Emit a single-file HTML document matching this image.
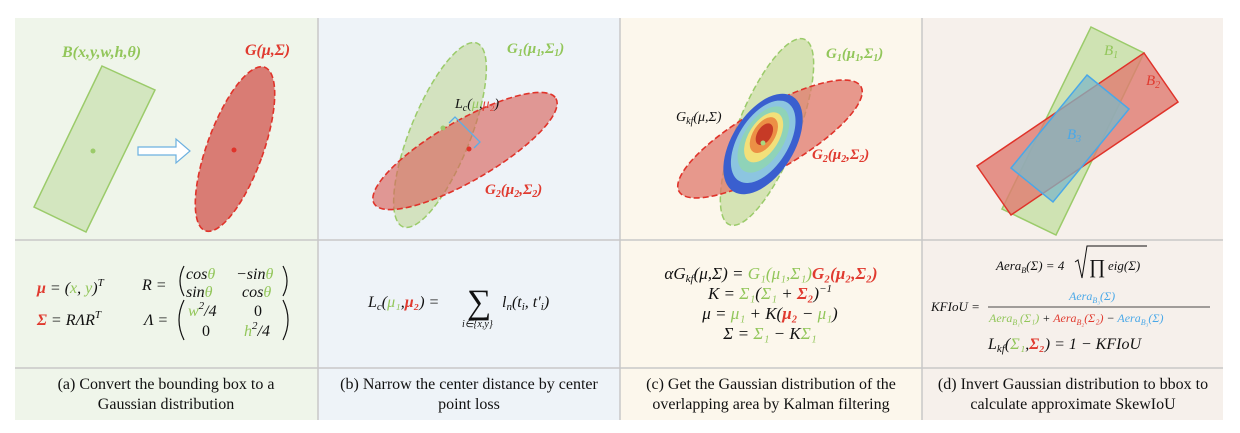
<!DOCTYPE html>
<html><head><meta charset="utf-8"><style>
body{margin:0;background:#fff;width:1240px;height:433px;overflow:hidden}
svg{display:block}
.m{font-family:"Liberation Serif",serif;font-style:italic}
.c{font-family:"Liberation Serif",serif;font-size:16px;fill:#111;text-anchor:middle}
.g{fill:#92c65a}.r{fill:#e03a2f}.b{fill:#4aa8e8}
</style></head><body>
<svg width="1240" height="433" viewBox="0 0 1240 433">
<g>
<rect x="15" y="18" width="303" height="402" fill="#eff5ea"/>
<rect x="318" y="18" width="302" height="402" fill="#eef3f8"/>
<rect x="620" y="18" width="302" height="402" fill="#fcf7ec"/>
<rect x="922" y="18" width="301" height="402" fill="#f6f0eb"/>
<g stroke="#c8c8c8" stroke-width="1.5">
<line x1="15" y1="240" x2="1223" y2="240"/><line x1="15" y1="368" x2="1223" y2="368"/>
<line x1="318" y1="18" x2="318" y2="420"/><line x1="620" y1="18" x2="620" y2="420"/><line x1="922" y1="18" x2="922" y2="420"/>
</g></g>

<!-- panel a -->
<g>
<polygon points="102,66 155,90 86,232 34,207" fill="#d3e6bf" stroke="#9bcb6a" stroke-width="1.5"/>
<circle cx="93" cy="151" r="2.5" fill="#9bcb6a"/>
<path d="M138,151 h38 v-8 l14,12 l-14,12 v-8 h-38 z" fill="#fff" stroke="#6cb0e0" stroke-width="1.2" transform="translate(0,-4)"/>
<ellipse cx="235" cy="149" rx="28" ry="87" transform="rotate(20 235 149)" fill="#d97c74" stroke="#e0332a" stroke-width="1.6" stroke-dasharray="6 3"/>
<circle cx="234" cy="150" r="2.5" fill="#e0332a"/>
<text class="m g" x="62" y="57" font-size="16" font-weight="bold">B(x,y,w,h,θ)</text>
<text class="m r" x="245" y="55" font-size="16" font-weight="bold">G(μ,Σ)</text>
</g>

<!-- panel b -->
<g>
<ellipse cx="440" cy="135" rx="30" ry="99" transform="rotate(22 440 135)" fill="#cfe0b8" fill-opacity="0.9" stroke="#9bcb6a" stroke-width="1.5" stroke-dasharray="6 3"/>
<ellipse cx="465" cy="151" rx="105" ry="30" transform="rotate(-30 465 151)" fill="#d9665e" fill-opacity="0.65" stroke="#e0332a" stroke-width="1.6" stroke-dasharray="6 3"/>
<circle cx="443" cy="128" r="2.5" fill="#9bcb6a"/><circle cx="469" cy="149" r="2.5" fill="#e0332a"/>
<path d="M449,123 l6,-6 l25,25 l-6,6" fill="none" stroke="#5aaee8" stroke-width="1.3"/>
<text class="m g" x="507" y="53" font-size="15" font-weight="bold">G<tspan font-size="10" dy="3">1</tspan><tspan dy="-3">(μ</tspan><tspan font-size="10" dy="3">1</tspan><tspan dy="-3">,Σ</tspan><tspan font-size="10" dy="3">1</tspan><tspan dy="-3">)</tspan></text>
<text class="m" x="455" y="108" font-size="14" fill="#111">L<tspan font-size="10" dy="3">c</tspan><tspan dy="-3">(</tspan><tspan class="g">μ</tspan><tspan>,</tspan><tspan class="r">μ₂</tspan><tspan>)</tspan></text>
<text class="m r" x="485" y="194" font-size="15" font-weight="bold">G<tspan font-size="10" dy="3">2</tspan><tspan dy="-3">(μ</tspan><tspan font-size="10" dy="3">2</tspan><tspan dy="-3">,Σ</tspan><tspan font-size="10" dy="3">2</tspan><tspan dy="-3">)</tspan></text>
</g>

<!-- panel c -->
<g>
<ellipse cx="767" cy="132" rx="30" ry="100" transform="rotate(22 767 132)" fill="#d5e3b4" stroke="#9bcb6a" stroke-width="1.5" stroke-dasharray="6 3"/>
<ellipse cx="770" cy="139" rx="105" ry="31" transform="rotate(-30 770 139)" fill="#e0786c" fill-opacity="0.75" stroke="#e0332a" stroke-width="1.6" stroke-dasharray="6 3"/>
<g transform="rotate(-58 763 144)">
<ellipse cx="763" cy="144" rx="56" ry="31" fill="#3a5fcf"/>
<ellipse cx="765" cy="143" rx="46" ry="25" fill="#8cc5e0"/>
<ellipse cx="767" cy="142" rx="37" ry="20" fill="#8fd3b8"/>
<ellipse cx="769" cy="141" rx="28" ry="15" fill="#f2e07a"/>
<ellipse cx="771" cy="140" rx="20" ry="11" fill="#ec8f45"/>
<ellipse cx="772" cy="140" rx="12" ry="7" fill="#c63a26"/>
</g>
<circle cx="763" cy="143" r="2.5" fill="#a8d880"/>
<text class="m g" x="826" y="58" font-size="15" font-weight="bold">G<tspan font-size="10" dy="3">1</tspan><tspan dy="-3">(μ</tspan><tspan font-size="10" dy="3">1</tspan><tspan dy="-3">,Σ</tspan><tspan font-size="10" dy="3">1</tspan><tspan dy="-3">)</tspan></text>
<text class="m" x="676" y="121" font-size="14" fill="#111">G<tspan font-size="10" dy="3">kf</tspan><tspan dy="-3">(μ,Σ)</tspan></text>
<text class="m r" x="812" y="159" font-size="15" font-weight="bold">G<tspan font-size="10" dy="3">2</tspan><tspan dy="-3">(μ</tspan><tspan font-size="10" dy="3">2</tspan><tspan dy="-3">,Σ</tspan><tspan font-size="10" dy="3">2</tspan><tspan dy="-3">)</tspan></text>
</g>

<!-- panel d -->
<g>
<polygon points="1091,27 1144,53 1056,235 1002,209" fill="#cfe3b3" stroke="#9bcb6a" stroke-width="1.5"/>
<polygon points="1144,53 1178,102 1011,215 977,166" fill="#e07a70" fill-opacity="0.8" stroke="#e0332a" stroke-width="1.5"/>
<polygon points="1087,75 1129,109 1053,202 1011,168" fill="#7fb7c6" fill-opacity="0.75" stroke="#4aa8e8" stroke-width="1.5"/>
<text class="m g" x="1104" y="55" font-size="15">B<tspan font-size="10" dy="3">1</tspan></text>
<text class="m r" x="1146" y="85" font-size="15">B<tspan font-size="10" dy="3">2</tspan></text>
<text class="m b" x="1067" y="139" font-size="15">B<tspan font-size="10" dy="3">3</tspan></text>
</g>

<!-- formulas -->
<g class="m" font-size="16" fill="#111">
<text x="37" y="293"><tspan class="r" font-weight="bold">μ</tspan> = (<tspan class="g">x</tspan>, <tspan class="g">y</tspan>)<tspan font-size="11" dy="-7">T</tspan></text>
<text x="37" y="325"><tspan class="r" font-weight="bold">Σ</tspan> = RΛR<tspan font-size="11" dy="-7">T</tspan></text>
<text x="142" y="290">R = </text>
<path d="M184,266 q-8,15 0,30 M283,266 q8,15 0,30" fill="none" stroke="#111" stroke-width="1.2"/>
<text x="186" y="279">cos<tspan class="g">θ</tspan></text><text x="236" y="279">−sin<tspan class="g">θ</tspan></text>
<text x="186" y="297">sin<tspan class="g">θ</tspan></text><text x="242" y="297">cos<tspan class="g">θ</tspan></text>
<text x="144" y="325">Λ = </text>
<path d="M184,300 q-10,20 0,40 M283,300 q10,20 0,40" fill="none" stroke="#111" stroke-width="1.2"/>
<text x="188" y="316"><tspan class="g">w</tspan><tspan font-size="11" dy="-7">2</tspan><tspan dy="7">/4</tspan></text><text x="254" y="316" font-style="normal">0</text>
<text x="202" y="336" font-style="normal">0</text><text x="244" y="336"><tspan class="g">h</tspan><tspan font-size="11" dy="-7">2</tspan><tspan dy="7">/4</tspan></text>
</g>
<g class="m" font-size="16" fill="#111">
<text x="368" y="307">L<tspan font-size="11" dy="3">c</tspan><tspan dy="-3">(</tspan><tspan class="g">μ₁</tspan>,<tspan class="r" font-weight="bold">μ₂</tspan>) =</text>
<text x="467" y="313" font-size="34" font-style="normal">∑</text>
<text x="462" y="327" font-size="10">i∈{x,y}</text>
<text x="502" y="307">l<tspan font-size="11" dy="3">n</tspan><tspan dy="-3">(t</tspan><tspan font-size="11" dy="3">i</tspan><tspan dy="-3">, t′</tspan><tspan font-size="11" dy="3">i</tspan><tspan dy="-3">)</tspan></text>
</g>
<g class="m" font-size="17" fill="#111" text-anchor="middle">
<text x="771" y="279">αG<tspan font-size="11" dy="3">kf</tspan><tspan dy="-3">(μ,Σ) = </tspan><tspan class="g">G₁(μ₁,Σ₁)</tspan><tspan class="r" font-weight="bold">G₂(μ₂,Σ₂)</tspan></text>
<text x="770" y="299">K = <tspan class="g">Σ₁</tspan>(<tspan class="g">Σ₁</tspan> + <tspan class="r" font-weight="bold">Σ₂</tspan>)<tspan font-size="11" dy="-7">−1</tspan></text>
<text x="770" y="319">μ = <tspan class="g">μ₁</tspan> + K(<tspan class="r" font-weight="bold">μ₂</tspan> − <tspan class="g">μ₁</tspan>)</text>
<text x="770" y="339">Σ = <tspan class="g">Σ₁</tspan> − K<tspan class="g">Σ₁</tspan></text>
</g>
<g class="m" fill="#111">
<text x="996" y="270" font-size="13">Aera<tspan font-size="8" dy="3">B</tspan><tspan dy="-3">(Σ) = 4</tspan></text>
<path d="M1075,262 l3,-2 l4,18 l5,-32 h60" fill="none" stroke="#111" stroke-width="1"/>
<text x="1089" y="273" font-size="20" font-style="normal">∏</text>
<text x="1108" y="270" font-size="13">eig(Σ)</text>
<text x="1069" y="300" font-size="12" class="b">Aera<tspan font-size="8" dy="3">B₃</tspan><tspan dy="-3">(Σ)</tspan></text>
<text x="931" y="311" font-size="13">KFIoU =</text>
<line x1="988" y1="307" x2="1210" y2="307" stroke="#111" stroke-width="0.8"/>
<text x="989" y="322" font-size="12"><tspan class="g">Aera</tspan><tspan class="g" font-size="8" dy="3">B₁</tspan><tspan class="g" dy="-3">(Σ₁)</tspan> + <tspan class="r">Aera</tspan><tspan class="r" font-size="8" dy="3">B₂</tspan><tspan class="r" dy="-3">(Σ₂)</tspan> − <tspan class="b">Aera</tspan><tspan class="b" font-size="8" dy="3">B₃</tspan><tspan class="b" dy="-3">(Σ)</tspan></text>
<text x="988" y="349" font-size="16">L<tspan font-size="11" dy="3">kf</tspan><tspan dy="-3">(</tspan><tspan class="g">Σ₁</tspan>,<tspan class="r" font-weight="bold">Σ₂</tspan>) = 1 − KFIoU</text>
</g>

<!-- captions -->
<g>
<text class="c" x="166" y="389">(a) Convert the bounding box to a</text>
<text class="c" x="166" y="409">Gaussian distribution</text>
<text class="c" x="469" y="389">(b) Narrow the center distance by center</text>
<text class="c" x="469" y="409">point loss</text>
<text class="c" x="771" y="389">(c) Get the Gaussian distribution of the</text>
<text class="c" x="771" y="409">overlapping area by Kalman filtering</text>
<text class="c" x="1073" y="389">(d) Invert Gaussian distribution to bbox to</text>
<text class="c" x="1073" y="409">calculate approximate SkewIoU</text>
</g>
</svg>
</body></html>
